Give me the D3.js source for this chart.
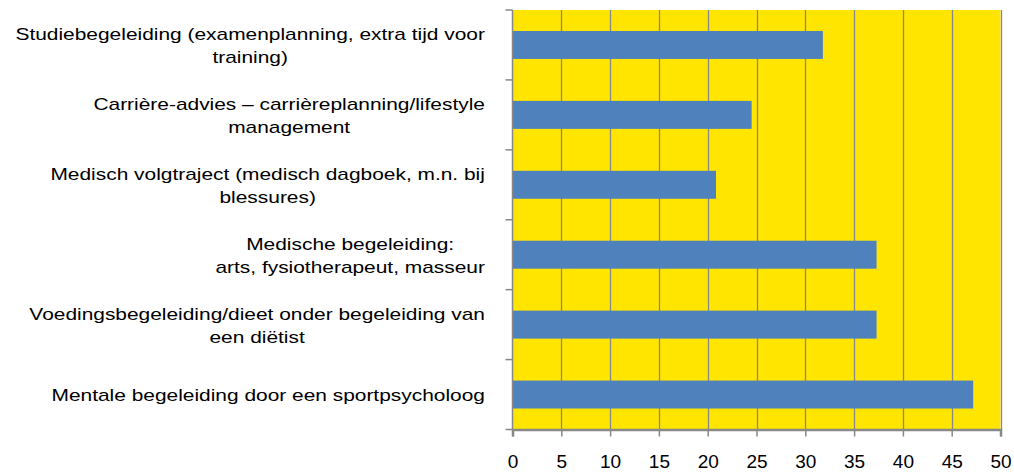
<!DOCTYPE html>
<html>
<head>
<meta charset="utf-8">
<script src="https://cdn.jsdelivr.net/npm/d3@7/dist/d3.min.js"></script>
<style>
  html, body { margin: 0; padding: 0; background: #ffffff; }
  svg { display: block; }
</style>
</head>
<body>
<svg id="chart" width="1014" height="473"></svg>
<script>
// ---- data ----
const categories = [
  "Studiebegeleiding (examenplanning, extra tijd voor|training)",
  "Carrière-advies – carrièreplanning/lifestyle|management",
  "Medisch volgtraject (medisch dagboek, m.n. bij|blessures)",
  "Medische begeleiding:|arts, fysiotherapeut, masseur",
  "Voedingsbegeleiding/dieet onder begeleiding van|een diëtist",
  "Mentale begeleiding door een sportpsycholoog"
];
const values = [31.8, 24.5, 20.85, 37.3, 37.3, 47.2];
const xTicks = [0, 5, 10, 15, 20, 25, 30, 35, 40, 45, 50];

// ---- layout ----
const svg = d3.select("#chart");
const pLeft = 512.5, pRight = 1000.5, pTop = 10, pBottom = 429.5;
const x = d3.scaleLinear().domain([0, 50]).range([pLeft, pRight]);
const yBand = d3.scaleBand().domain(categories).range([pTop, pBottom]).paddingInner(0.6).paddingOuter(0.3);
const yCat = d3.scaleBand().domain(categories).range([pTop, pBottom]).padding(0);

// plot background
svg.append("rect")
  .attr("x", pLeft).attr("y", pTop)
  .attr("width", pRight - pLeft).attr("height", pBottom - pTop)
  .attr("fill", "#FFE500");

// vertical gridlines
svg.append("g").selectAll("line").data(xTicks.slice(1)).join("line")
  .attr("x1", d => Math.round(x(d)) + 0.5).attr("x2", d => Math.round(x(d)) + 0.5)
  .attr("y1", pTop).attr("y2", pBottom)
  .attr("stroke", "#888888").attr("stroke-width", 1.3);

// bars
svg.append("g").selectAll("rect").data(categories).join("rect")
  .attr("x", x(0))
  .attr("y", d => yBand(d))
  .attr("width", (d, i) => x(values[i]) - x(0))
  .attr("height", yBand.bandwidth())
  .attr("fill", "#4F81BD");

// left axis line and category ticks
svg.append("line")
  .attr("x1", pLeft).attr("x2", pLeft).attr("y1", pTop).attr("y2", pBottom)
  .attr("stroke", "#888888").attr("stroke-width", 1.5);
const boundaries = categories.map(c => yCat(c)).concat([pBottom]);
svg.append("g").selectAll("line").data(boundaries).join("line")
  .attr("x1", pLeft - 7).attr("x2", pLeft)
  .attr("y1", d => d).attr("y2", d => d)
  .attr("stroke", "#888888").attr("stroke-width", 1.5);

// bottom axis
const xAxis = d3.axisBottom(x).tickValues(xTicks).tickSize(7).tickPadding(18).tickFormat(d3.format("d"));
const gx = svg.append("g").attr("transform", `translate(0,${pBottom})`).call(xAxis);
gx.select(".domain").attr("stroke", "#888888").attr("stroke-width", 2.5);
gx.selectAll(".tick line").attr("stroke", "#888888").attr("stroke-width", 1.5);
gx.selectAll(".tick text")
  .attr("font-family", "'Liberation Sans', Arial, sans-serif")
  .attr("font-size", 19).attr("fill", "#000");

// category labels (multi-line, centered lines, block right-aligned)
const sx = 1.23, lineH = 23, rightEdge = 485;
const lg = svg.append("g")
  .attr("font-family", "'Liberation Sans', Arial, sans-serif")
  .attr("font-size", 17).attr("fill", "#000");
categories.forEach(c => {
  const lines = c.split("|");
  const cy = yCat(c) + yCat.bandwidth() / 2 + 1;
  const g = lg.append("g");
  const texts = lines.map((ln, j) => {
    const yy = cy + (j - (lines.length - 1) / 2) * lineH;
    return g.append("text")
      .attr("text-anchor", "middle")
      .attr("dominant-baseline", "central")
      .attr("data-y", yy)
      .text(ln);
  });
  const maxW = d3.max(texts, t => t.node().getComputedTextLength()) * sx;
  const cx = rightEdge - maxW / 2;
  texts.forEach(t => t.attr("transform", `translate(${cx},${t.attr("data-y")}) scale(${sx},1)`));
});
</script>
</body>
</html>
